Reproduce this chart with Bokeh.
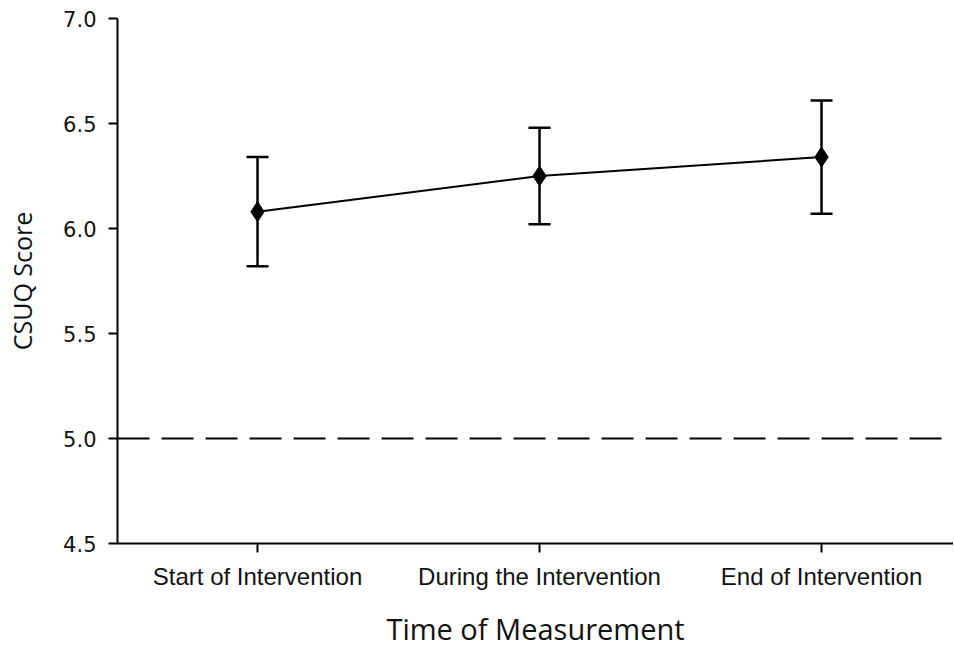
from bokeh.plotting import figure
from bokeh.models import (ColumnDataSource, Whisker, Span, FixedTicker, Range1d,
                          TeeHead, CustomJSTickFormatter)
from bokeh.embed import file_html
from bokeh.resources import INLINE

categories = ["Start of Intervention", "During the Intervention", "End of Intervention"]
means = [6.08, 6.25, 6.34]
lower = [5.82, 6.02, 6.07]
upper = [6.34, 6.48, 6.61]
reference_score = 5.0
y_ticks = [4.5, 5.0, 5.5, 6.0, 6.5, 7.0]

xs = list(range(len(categories)))
src = ColumnDataSource(data=dict(x=xs, mean=means, lower=lower, upper=upper))

p = figure(width=953, height=653, output_backend="svg", toolbar_location=None,
           x_range=Range1d(-0.4965, 2.468), y_range=Range1d(4.5, 7.0),
           min_border_left=117, min_border_top=18, min_border_right=0, min_border_bottom=110)
p.outline_line_color = None
p.grid.visible = False
p.background_fill_color = "white"
p.border_fill_color = "white"

# reference dashed line
p.add_layout(Span(location=reference_score, dimension="width", line_color="black",
                  line_width=2, line_dash="32 12"))

# error bars
w = Whisker(source=src, base="x", lower="lower", upper="upper",
            line_color="black", line_width=2.5)
w.upper_head = TeeHead(size=22, line_color="black", line_width=2.5)
w.lower_head = TeeHead(size=22, line_color="black", line_width=2.5)
p.add_layout(w)

p.line("x", "mean", source=src, line_color="black", line_width=2)
p.scatter("x", "mean", source=src, marker="diamond", size=20,
          fill_color="black", line_color="black")

# axes
p.xaxis.ticker = FixedTicker(ticks=xs)
p.xaxis.major_label_overrides = {i: c for i, c in enumerate(categories)}
p.yaxis.ticker = FixedTicker(ticks=y_ticks)
p.yaxis.formatter = CustomJSTickFormatter(code="return tick.toFixed(1);")

for ax in (p.xaxis[0], p.yaxis[0]):
    ax.axis_line_width = 2
    ax.axis_line_color = "black"
    ax.major_tick_line_width = 2
    ax.major_tick_line_color = "black"
    ax.major_tick_in = 0
    ax.major_tick_out = 9
    ax.minor_tick_line_color = None
    ax.major_label_text_color = "#111111"
    ax.axis_label_text_color = "#111111"
    ax.axis_label_text_font_style = "normal"

p.xaxis.major_label_text_font = "Liberation Sans"
p.xaxis.major_label_text_font_size = "24px"
p.xaxis.major_label_standoff = 10
p.xaxis.axis_label = "Time of Measurement"
p.xaxis.axis_label_text_font = "Open Sans"
p.xaxis.axis_label_text_font_size = "29px"
p.xaxis.axis_label_standoff = 16

p.yaxis.major_label_text_font = "DejaVu Sans"
p.yaxis.major_label_text_font_size = "21px"
p.yaxis.major_label_standoff = 12
p.yaxis.axis_label = "CSUQ Score"
p.yaxis.axis_label_text_font = "Open Sans"
p.yaxis.axis_label_text_font_size = "25px"
p.yaxis.axis_label_standoff = 21

open("out.html", "w").write(file_html(p, INLINE))
